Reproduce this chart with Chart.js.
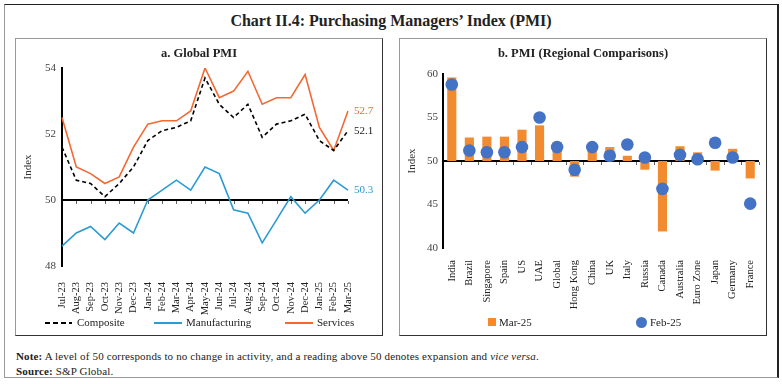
<!DOCTYPE html>
<html>
<head>
<meta charset="utf-8">
<script src="https://cdn.jsdelivr.net/npm/chart.js@4.4.1/dist/chart.umd.min.js"></script>
<style>
  body { margin: 0; width: 782px; height: 384px; background: #fff; position: relative;
         font-family: "Liberation Serif", "DejaVu Serif", serif; color: #222; overflow: hidden; }
  #frame { position: absolute; left: 4px; top: 4px; width: 772px; height: 372px;
           border: 1px solid #999; border-top-color: #222; border-right: 2px solid #222; }
  #title { position: absolute; left: 0; width: 782px; top: 12px; text-align: center;
           font-size: 16px; font-weight: bold; }
  .panel { position: absolute; top: 38px; width: 368px; height: 298px; box-sizing: border-box;
           border: 1px solid #999; border-right-color: #333; border-bottom-color: #333; }
  #pa { left: 15px; }
  #pb { left: 399px; }
  .panel canvas { position: absolute; left: 0; top: 0; }
  .ptitle { position: absolute; left: 0; width: 366px; top: 7px; text-align: center;
            font-size: 12.5px; font-weight: bold; }
  .lg { position: absolute; font-size: 11px; line-height: 12px; top: 277px; }
  .mk { position: absolute; }
  .note { position: absolute; left: 16px; font-size: 11px; letter-spacing: 0.15px; }
</style>
</head>
<body>
<div id="frame"></div>
<div id="title">Chart II.4: Purchasing Managers’ Index (PMI)</div>

<div class="panel" id="pa">
  <canvas id="globalChart" width="366" height="296"></canvas>
  <div class="ptitle">a. Global PMI</div>
  <div class="mk" style="left:29px;top:283px;width:27px;height:2px;background:repeating-linear-gradient(90deg,#000 0 5px,transparent 5px 8px)"></div>
  <div class="lg" style="left:61px">Composite</div>
  <div class="mk" style="left:138px;top:283px;width:28px;height:2px;background:#2b9bd3"></div>
  <div class="lg" style="left:170px">Manufacturing</div>
  <div class="mk" style="left:269px;top:283px;width:28px;height:2px;background:#f26a32"></div>
  <div class="lg" style="left:301px">Services</div>
</div>

<div class="panel" id="pb">
  <canvas id="regionChart" width="366" height="296"></canvas>
  <div class="ptitle">b. PMI (Regional Comparisons)</div>
  <div class="mk" style="left:88px;top:279px;width:8px;height:8px;background:#f28a30"></div>
  <div class="lg" style="left:99px">Mar-25</div>
  <div class="mk" style="left:236px;top:278px;width:11px;height:11px;border-radius:50%;background:#4472c4"></div>
  <div class="lg" style="left:250px">Feb-25</div>
</div>

<div class="note" style="top:350px"><b>Note:</b> A level of 50 corresponds to no change in activity, and a reading above 50 denotes expansion and <i>vice versa</i>.</div>
<div class="note" style="top:365px"><b>Source:</b> S&amp;P Global.</div>

<script>
'use strict';

// ── Data ─────────────────────────────────────────────────────────────────────
const months = ['Jul-23', 'Aug-23', 'Sep-23', 'Oct-23', 'Nov-23', 'Dec-23', 'Jan-24',
  'Feb-24', 'Mar-24', 'Apr-24', 'May-24', 'Jun-24', 'Jul-24', 'Aug-24', 'Sep-24',
  'Oct-24', 'Nov-24', 'Dec-24', 'Jan-25', 'Feb-25', 'Mar-25'];
const composite     = [51.6, 50.6, 50.5, 50.1, 50.5, 51.0, 51.8, 52.1, 52.2, 52.4, 53.7,
  52.9, 52.5, 52.9, 51.9, 52.3, 52.4, 52.6, 51.8, 51.5, 52.1];
const manufacturing = [48.6, 49.0, 49.2, 48.8, 49.3, 49.0, 50.0, 50.3, 50.6, 50.3, 51.0,
  50.8, 49.7, 49.6, 48.7, 49.4, 50.1, 49.6, 50.0, 50.6, 50.3];
const services      = [52.5, 51.0, 50.8, 50.5, 50.7, 51.6, 52.3, 52.4, 52.4, 52.7, 54.0,
  53.1, 53.3, 53.9, 52.9, 53.1, 53.1, 53.8, 52.2, 51.5, 52.7];

const countries = ['India', 'Brazil', 'Singapore', 'Spain', 'US', 'UAE', 'Global', 'Hong Kong',
  'China', 'UK', 'Italy', 'Russia', 'Canada', 'Australia', 'Euro Zone', 'Japan', 'Germany', 'France'];
const mar25 = [59.6, 52.7, 52.8, 52.8, 53.6, 54.1, 52.2, 48.2, 51.8, 51.6, 50.6, 49.0,
  41.9, 51.7, 51.0, 48.9, 51.4, 48.0];
const feb25 = [58.8, 51.2, 51.0, 51.0, 51.6, 55.0, 51.6, 49.0, 51.6, 50.6, 51.9, 50.4,
  46.8, 50.7, 50.2, 52.1, 50.4, 45.1];

// ── Shared settings ──────────────────────────────────────────────────────────
Chart.defaults.font.family = '"Liberation Serif", "DejaVu Serif", serif';
Chart.defaults.font.size = 11;
Chart.defaults.color = '#333';

// horizontal axis line drawn at the neutral 50 level, with small tick marks
const baselineAxis = {
  id: 'baselineAxis',
  beforeDatasetsDraw(chart, args, opts) {
    const { ctx, chartArea, scales: { x, y } } = chart;
    const y0 = y.getPixelForValue(50);
    ctx.save();
    ctx.strokeStyle = '#000';
    ctx.lineWidth = 2;
    ctx.beginPath();
    ctx.moveTo(chartArea.left, y0);
    ctx.lineTo(chartArea.right, y0);
    ctx.stroke();
    ctx.lineWidth = 1;
    ctx.strokeStyle = '#666';
    ctx.beginPath();
    const n = chart.data.labels.length;
    for (let i = 1; i < n + (opts.between ? 1 : 0); i++) {
      let px = x.getPixelForValue(i);
      if (opts.between) px = (x.getPixelForValue(i - 1) + (i < n ? x.getPixelForValue(i) : chartArea.right * 2 - x.getPixelForValue(i - 1))) / 2;
      px = Math.round(px) + 0.5;
      ctx.moveTo(px, y0 + 1);
      ctx.lineTo(px, y0 + 4);
    }
    ctx.stroke();
    ctx.restore();
  }
};

// last-value labels at the right end of each line
const endLabels = {
  id: 'endLabels',
  afterDatasetsDraw(chart) {
    const { ctx, chartArea, scales: { y } } = chart;
    ctx.save();
    ctx.font = '11px "Liberation Serif", serif';
    ctx.textBaseline = 'middle';
    chart.data.datasets.forEach(ds => {
      const last = ds.data[ds.data.length - 1];
      ctx.fillStyle = ds.labelColor || ds.borderColor;
      ctx.fillText(last.toFixed(1), chartArea.right + 6, y.getPixelForValue(last));
    });
    ctx.restore();
  }
};

function fixSize(size) {
  return scale => {
    if (scale.isHorizontal()) scale.height = size; else scale.width = size;
    scale.paddingLeft = scale.paddingRight = scale.paddingTop = scale.paddingBottom = 0;
  };
}

// ── a. Global PMI ────────────────────────────────────────────────────────────
new Chart(document.getElementById('globalChart'), {
  type: 'line',
  data: {
    labels: months,
    datasets: [
      { label: 'Composite', data: composite, borderColor: '#000', borderWidth: 1.6,
        borderDash: [4, 3], labelColor: '#222' },
      { label: 'Manufacturing', data: manufacturing, borderColor: '#2b9bd3', borderWidth: 1.6 },
      { label: 'Services', data: services, borderColor: '#f26a32', borderWidth: 1.6 },
    ],
  },
  options: {
    responsive: false,
    animation: false,
    elements: { point: { radius: 0 }, line: { tension: 0 } },
    layout: { padding: { left: 0, right: 34, top: 29, bottom: 0 } },
    plugins: { legend: { display: false }, tooltip: { enabled: false } },
    scales: {
      x: {
        offset: false,
        grid: { display: false },
        border: { display: false },
        ticks: { autoSkip: false, maxRotation: 90, minRotation: 90, padding: 8,
                 font: { size: 10.5 }, color: '#222' },
        afterFit: fixSize(69),
      },
      y: {
        min: 48, max: 54,
        grid: { display: false, drawTicks: false },
        border: { color: '#000', width: 2 },
        ticks: { stepSize: 2, padding: 6, color: '#444' },
        title: { display: true, text: 'Index', color: '#333', padding: { top: 6, bottom: 0 } },
        afterFit: fixSize(46),
      },
    },
  },
  plugins: [baselineAxis, endLabels],
});

// ── b. PMI (Regional Comparisons) ────────────────────────────────────────────
new Chart(document.getElementById('regionChart'), {
  type: 'bar',
  data: {
    labels: countries,
    datasets: [
      { type: 'line', label: 'Feb-25', data: feb25, showLine: false, pointRadius: 6.3,
        pointBackgroundColor: '#4472c4', pointBorderWidth: 0, order: 0 },
      { label: 'Mar-25', data: mar25, base: 50, backgroundColor: '#f28a30',
        barPercentage: 0.52, categoryPercentage: 1, order: 1 },
    ],
  },
  options: {
    responsive: false,
    animation: false,
    layout: { padding: { left: 0, right: 7, top: 35, bottom: 0 } },
    plugins: { legend: { display: false }, tooltip: { enabled: false }, baselineAxis: { between: true } },
    scales: {
      x: {
        grid: { display: false },
        border: { display: false },
        ticks: { autoSkip: false, maxRotation: 90, minRotation: 90, padding: 4,
                 font: { size: 10.5 }, color: '#222' },
        afterFit: fixSize(87),
      },
      y: {
        min: 40, max: 60,
        grid: { display: false, drawTicks: false },
        border: { color: '#000', width: 2 },
        ticks: { stepSize: 5, padding: 5, color: '#444' },
        title: { display: true, text: 'Index', color: '#333', padding: { top: 6, bottom: 0 } },
        afterFit: fixSize(43),
      },
    },
  },
  plugins: [baselineAxis],
});
</script>
</body>
</html>
